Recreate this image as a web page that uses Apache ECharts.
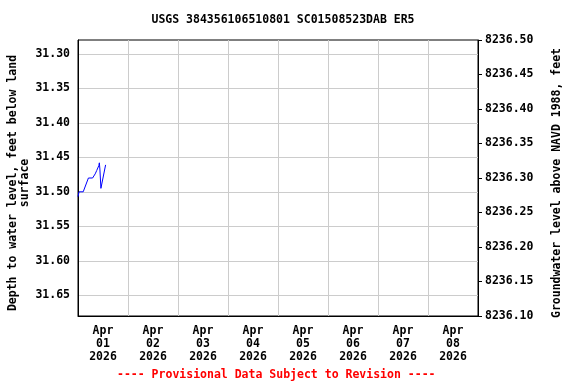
<!DOCTYPE html>
<html>
<head>
<meta charset="utf-8">
<script src="https://cdn.jsdelivr.net/npm/echarts@6/dist/echarts.min.js"></script>
<style>html,body{margin:0;padding:0;background:#fff}#c{width:576px;height:384px}</style>
</head>
<body>
<div id="c"></div>
<script>
// Data
const times = [
  "2026-04-01T00:00:00Z", "2026-04-01T00:30:00Z", "2026-04-01T02:30:00Z",
  "2026-04-01T05:00:00Z", "2026-04-01T07:00:00Z", "2026-04-01T08:15:00Z",
  "2026-04-01T09:00:00Z", "2026-04-01T10:00:00Z", "2026-04-01T10:15:00Z",
  "2026-04-01T10:30:00Z", "2026-04-01T11:00:00Z", "2026-04-01T11:15:00Z",
  "2026-04-01T13:15:00Z"
];
const depths = [31.507, 31.500, 31.500, 31.480, 31.480, 31.474, 31.469, 31.462, 31.458, 31.467, 31.495, 31.496, 31.461];
const leftTicks = [31.30, 31.35, 31.40, 31.45, 31.50, 31.55, 31.60, 31.65];
const dayLabels = ["2026-04-01", "2026-04-02", "2026-04-03", "2026-04-04", "2026-04-05", "2026-04-06", "2026-04-07", "2026-04-08"];
const monthNames = ["Jan","Feb","Mar","Apr","May","Jun","Jul","Aug","Sep","Oct","Nov","Dec"];

const F = "'DejaVu Sans Mono', monospace";
const t0 = Date.UTC(2026, 3, 1);
const t1 = Date.UTC(2026, 3, 9);
const DAY = 86400000;
const labelNoons = dayLabels.map(d => Date.parse(d + "T12:00:00Z"));

const chart = echarts.init(document.getElementById('c'));
chart.setOption({
  useUTC: true,
  animation: false,
  backgroundColor: '#fff',
  title: {
    text: 'USGS 384356106510801 SC01508523DAB ER5',
    left: 278, top: 9, textAlign: 'center',
    textStyle: { fontFamily: F, fontSize: 11.5, fontWeight: 'bold', color: '#000' }
  },
  graphic: [{
    type: 'text', left: 117, top: 369,
    style: { text: '---- Provisional Data Subject to Revision ----', fill: '#ff0000',
      font: "bold 11.5px 'DejaVu Sans Mono', monospace" }
  }],
  grid: { left: 78, right: 98, top: 40, bottom: 68, containLabel: false, outerBoundsMode: 'none',
    show: true, borderColor: '#000', borderWidth: 1, backgroundColor: 'transparent' },
  xAxis: [{
    type: 'time', min: t0, max: t1, interval: DAY,
    axisLine: { show: true, lineStyle: { color: '#000' } },
    axisTick: { show: false },
    axisLabel: { show: false },
    splitLine: { show: true, lineStyle: { color: '#cccccc', width: 1 } }
  }, {
    type: 'value', min: t0, max: t1, position: 'bottom',
    axisLine: { show: false }, axisTick: { show: false }, splitLine: { show: false },
    axisLabel: {
      show: true, customValues: labelNoons, margin: 9, lineHeight: 13,
      fontFamily: F, fontSize: 11.5, fontWeight: 'bold', color: '#000',
      formatter: v => { const d = new Date(v); return monthNames[d.getUTCMonth()] + '\n' + String(d.getUTCDate()).padStart(2, '0') + '\n' + d.getUTCFullYear(); }
    }
  }],
  yAxis: [{
    type: 'value', inverse: true, min: 31.28, max: 31.68, position: 'left',
    name: 'Depth to water level, feet below land\nsurface',
    nameLocation: 'middle', nameGap: 47, nameRotate: 90, nameMoveOverlap: false,
    nameTextStyle: { fontFamily: F, fontSize: 11.5, fontWeight: 'bold', color: '#000', lineHeight: 12, padding: [0, 10, 0, 0] },
    axisLine: { show: true, lineStyle: { color: '#000' } },
    axisTick: { show: false, customValues: leftTicks },
    axisLabel: { customValues: leftTicks, fontFamily: F, fontSize: 11.5, fontWeight: 'bold', color: '#000', margin: 8, formatter: v => v.toFixed(2) },
    splitLine: { show: true, lineStyle: { color: '#cccccc', width: 1 } }
  }, {
    type: 'value', min: 8236.10, max: 8236.50, interval: 0.05, position: 'right',
    name: 'Groundwater level above NAVD 1988, feet',
    nameLocation: 'middle', nameGap: 73, nameRotate: 90, nameMoveOverlap: false,
    nameTextStyle: { fontFamily: F, fontSize: 11.5, fontWeight: 'bold', color: '#000', padding: [0, 10, 0, 0] },
    axisLine: { show: true, lineStyle: { color: '#000' } },
    axisTick: { show: true, length: 4, lineStyle: { color: '#000' } },
    axisLabel: { fontFamily: F, fontSize: 11.5, fontWeight: 'bold', color: '#000', margin: 7, formatter: v => v.toFixed(2) },
    splitLine: { show: false }
  }],
  series: [{
    type: 'line', xAxisIndex: 0, yAxisIndex: 0,
    data: times.map((t, i) => [Date.parse(t), depths[i]]),
    showSymbol: false, symbol: 'none',
    lineStyle: { color: '#0000ff', width: 1 }
  }]
});
</script>
</body>
</html>
